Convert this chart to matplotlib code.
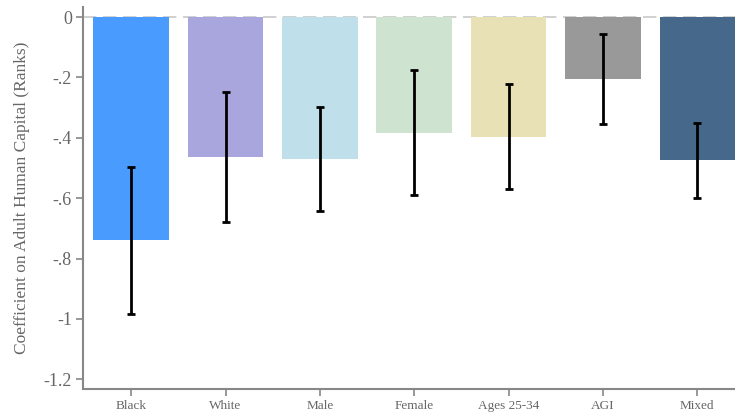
import matplotlib.pyplot as plt
import numpy as np

categories = ["Black", "White", "Male", "Female", "Ages 25-34", "AGI", "Mixed"]
coef = [-0.738, -0.464, -0.470, -0.384, -0.397, -0.205, -0.473]
ci_low = [-0.983, -0.679, -0.642, -0.589, -0.570, -0.354, -0.599]
ci_high = [-0.497, -0.248, -0.298, -0.175, -0.222, -0.056, -0.351]
colours = ["#499BFE", "#A9A5DD", "#BFE0EA", "#CFE3D1", "#E9E1B6", "#999999", "#46698B"]
yticks = [0, -0.2, -0.4, -0.6, -0.8, -1.0, -1.2]
ytick_labels = ["0", "-.2", "-.4", "-.6", "-.8", "-1", "-1.2"]

plt.rcParams["font.family"] = ["Liberation Serif", "DejaVu Serif"]
GREY = "#666666"

fig = plt.figure(figsize=(7.35, 4.16), dpi=100)
ax = fig.add_axes([0.113, 0.065, 0.887, 0.918])

x = np.arange(len(categories))
coef_a = np.array(coef)
yerr = np.vstack([coef_a - np.array(ci_low), np.array(ci_high) - coef_a])

ax.axhline(0, color="#c8c8c8", linestyle=(0, (8, 4)), linewidth=1.2, zorder=0)
ax.bar(x, coef, width=0.8, color=colours, zorder=1)
ax.errorbar(x, coef, yerr=yerr, fmt="none", ecolor="black", elinewidth=2,
            capsize=3, capthick=2, zorder=2)

ax.set_xlim(-0.51, 6.4)
ax.set_ylim(-1.232, 0.033)
ax.set_yticks(yticks)
ax.set_yticklabels(ytick_labels, fontsize=13, color=GREY)
ax.set_xticks(x)
ax.set_xticklabels(categories, fontsize=9.5, color=GREY)
ax.set_ylabel("Coefficient on Adult Human Capital (Ranks)", fontsize=12.5,
              color=GREY, labelpad=10)

for side in ("top", "right"):
    ax.spines[side].set_visible(False)
for side in ("left", "bottom"):
    ax.spines[side].set_color("#888888")
    ax.spines[side].set_linewidth(1.5)
ax.tick_params(axis="both", colors="#888888", width=1.2, length=5)
ax.tick_params(axis="y", labelcolor=GREY, pad=3)
ax.tick_params(axis="x", labelcolor=GREY, pad=3)

fig.savefig("out.png", dpi=100)
